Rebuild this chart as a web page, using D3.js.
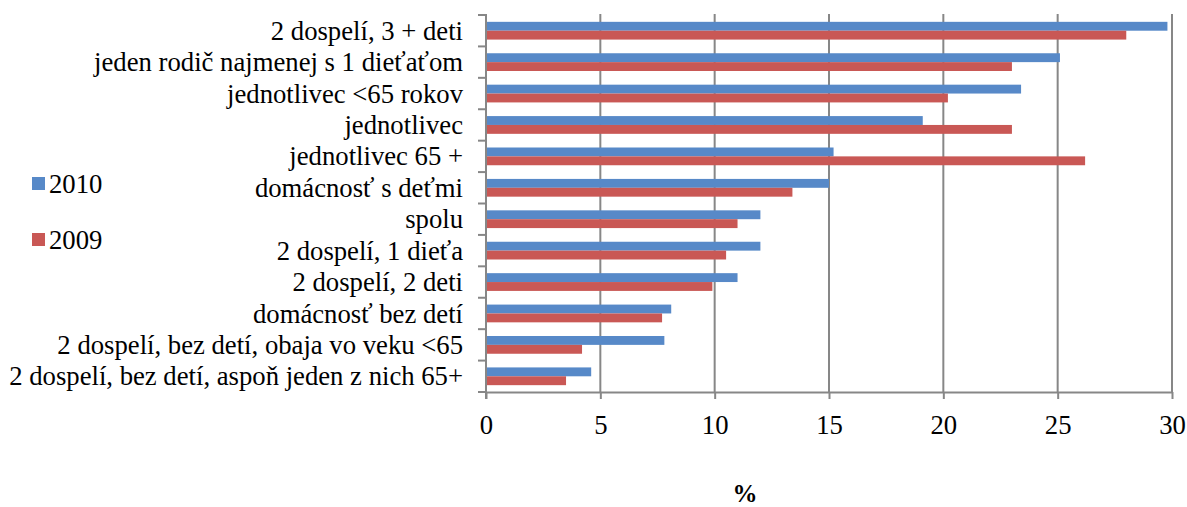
<!DOCTYPE html>
<html><head><meta charset="utf-8">
<script src="https://cdn.jsdelivr.net/npm/d3@7"></script>
<style>body{margin:0;background:#fff}</style>
</head><body><svg id="c" width="1187" height="507"></svg>
<script>
const categories = ["2 dospelí, 3 + deti","jeden rodič najmenej s 1 dieťaťom","jednotlivec <65 rokov","jednotlivec","jednotlivec 65 +","domácnosť s deťmi","spolu","2 dospelí, 1 dieťa","2 dospelí, 2 deti","domácnosť bez detí","2 dospelí, bez detí, obaja vo veku <65","2 dospelí, bez detí, aspoň jeden z nich 65+"];
const values2010 = [29.8,25.1,23.4,19.1,15.2,15.0,12.0,12.0,11.0,8.1,7.8,4.6];
const values2009 = [28.0,23.0,20.2,23.0,26.2,13.4,11.0,10.5,9.9,7.7,4.2,3.5];
const series = ["2010","2009"];
const xTicks = [0,5,10,15,20,25,30];
const axisTitle = "%";
const colors = {"2010":"#5789C8","2009":"#C95855"};
const FONT = "Liberation Serif";
const FS = 26.7;
const GRID = "#878787";

const svg = d3.select("#c").attr("font-family",FONT);
const L=486, R=1172, T=15, B=392;
const x = d3.scaleLinear().domain([0,30]).range([L,R]);
const y = d3.scaleBand().domain(categories).range([T,B]).paddingInner(0.435).paddingOuter(0.2175);
const sub = d3.scaleBand().domain(series).range([0,y.bandwidth()]);

svg.append("g").selectAll("line").data(xTicks.filter(d=>d>0)).join("line")
  .attr("x1",d=>x(d)).attr("x2",d=>x(d)).attr("y1",T-1).attr("y2",B)
  .attr("stroke",GRID).attr("stroke-width",2);

const data = [];
categories.forEach((c,i)=>{data.push({c,s:"2010",v:values2010[i]});data.push({c,s:"2009",v:values2009[i]});});
svg.append("g").selectAll("rect").data(data).join("rect")
  .attr("x",x(0)).attr("y",d=>y(d.c)+sub(d.s)).attr("width",d=>x(d.v)-x(0)).attr("height",sub.bandwidth())
  .attr("fill",d=>colors[d.s]);

const xa = svg.append("g").attr("transform",`translate(0,${B})`)
  .call(d3.axisBottom(x).tickValues(xTicks).tickSize(7).tickPadding(16).tickSizeOuter(0));
xa.attr("font-family",FONT).attr("font-size",FS);
xa.select(".domain").attr("stroke",GRID).attr("stroke-width",2);
xa.selectAll(".tick line").attr("stroke",GRID).attr("stroke-width",2);
xa.selectAll(".tick text").attr("fill","#000");

const step = (B-T)/categories.length;
const bounds = d3.range(categories.length+1).map(i=>T+i*step);
svg.append("line").attr("x1",L).attr("x2",L).attr("y1",T-1).attr("y2",B+7).attr("stroke",GRID).attr("stroke-width",2);
svg.append("g").selectAll("line").data(bounds).join("line")
  .attr("x1",L-8).attr("x2",L).attr("y1",d=>d).attr("y2",d=>d).attr("stroke",GRID).attr("stroke-width",2);

svg.append("g").attr("font-family",FONT).selectAll("text").data(categories).join("text")
  .attr("x",463).attr("y",d=>y(d)+y.bandwidth()/2).attr("dy","0.34em")
  .attr("text-anchor","end").attr("font-size",FS).attr("fill","#000").text(d=>d);

const leg = svg.append("g").attr("font-family",FONT);
const legY = {"2010":177,"2009":233};
series.forEach(s=>{
  leg.append("rect").attr("x",32).attr("y",legY[s]).attr("width",13).attr("height",13).attr("fill",colors[s]);
  leg.append("text").attr("x",49).attr("y",legY[s]+16).attr("font-size",FS).attr("fill","#000").text(s);
});

svg.append("text").attr("x",745).attr("y",502).attr("text-anchor","middle").attr("font-size",25).attr("font-weight","bold").attr("font-family",FONT).text(axisTitle);
</script></body></html>
